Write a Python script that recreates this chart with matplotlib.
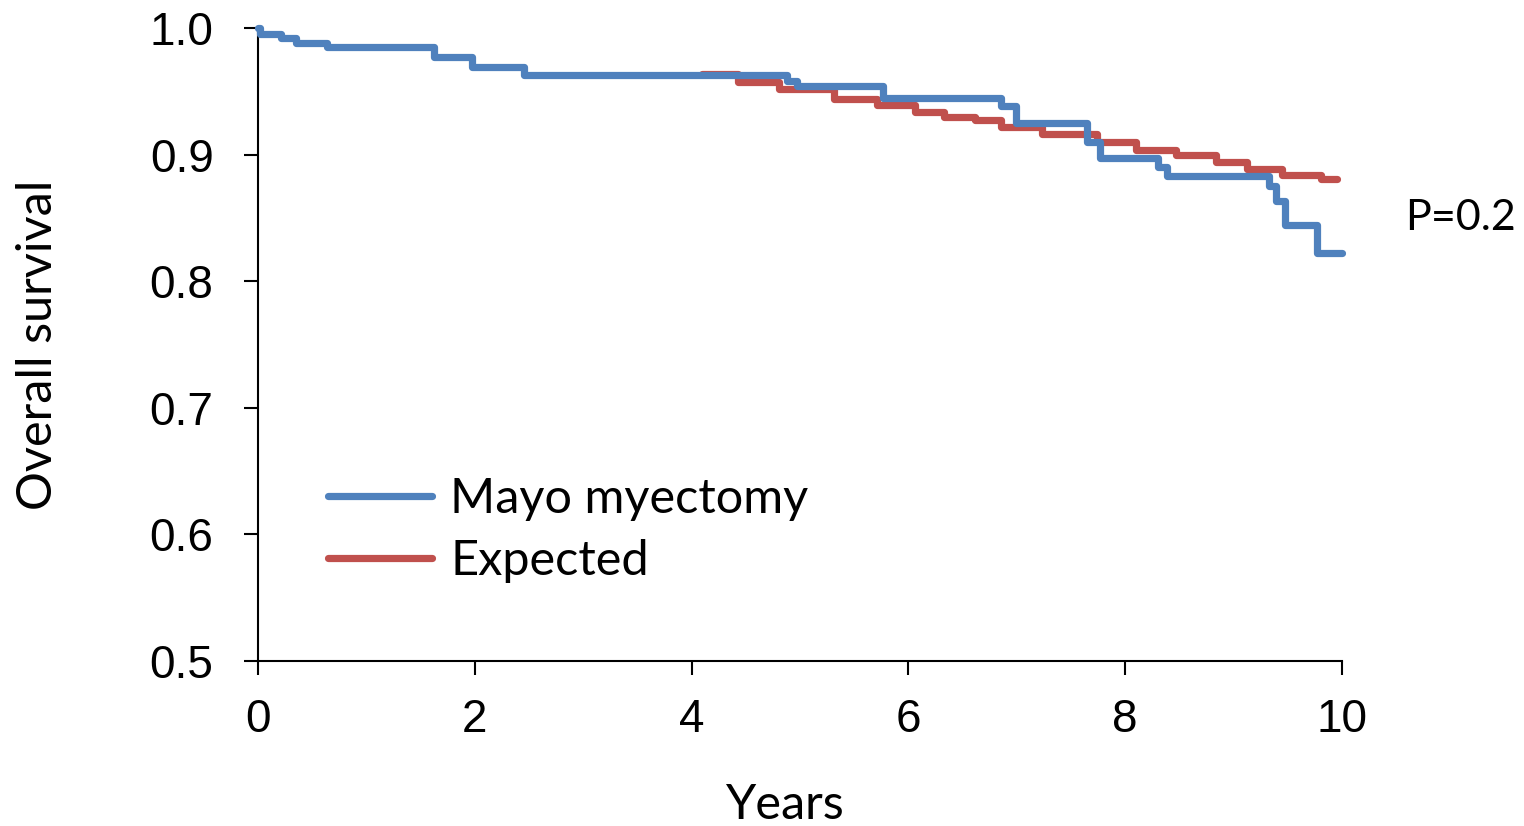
import matplotlib
matplotlib.use('Agg')
import matplotlib.pyplot as plt

# Kaplan-Meier style step data
mayo_years = [0, 0.02, 0.21, 0.35, 0.64, 1.62, 1.97, 2.45, 4.88, 4.97, 5.77, 6.85,
              6.99, 7.65, 7.77, 8.30, 8.39, 9.33, 9.39, 9.47, 9.77, 10.0]
mayo_surv = [1.0, 0.995, 0.992, 0.988, 0.985, 0.977, 0.969, 0.963, 0.958, 0.954, 0.945,
             0.938, 0.925, 0.910, 0.897, 0.890, 0.883, 0.875, 0.863, 0.844, 0.822, 0.822]

exp_years = [4.10, 4.43, 4.81, 5.31, 5.71, 6.06, 6.33, 6.61, 6.85, 7.23, 7.74, 8.10,
             8.47, 8.84, 9.12, 9.45, 9.81, 9.95]
exp_surv = [0.964, 0.957, 0.952, 0.944, 0.939, 0.934, 0.930, 0.927, 0.922, 0.916, 0.910,
            0.904, 0.900, 0.894, 0.889, 0.884, 0.881, 0.881]

x_ticks = [0, 2, 4, 6, 8, 10]
y_ticks = [0.5, 0.6, 0.7, 0.8, 0.9, 1.0]

BLUE = '#4F81BD'
RED = '#C0504D'
TEXT_FONT = 'Lato'
TICK_FONT = 'Liberation Sans'

fig = plt.figure(figsize=(15.24, 8.26), dpi=100)
ax = fig.add_axes([258 / 1524, 1 - 661 / 826, (1342 - 258) / 1524, (661 - 28) / 826])

ax.plot(exp_years, exp_surv, drawstyle='steps-post', color=RED, lw=5.2,
        solid_capstyle='round', label='Expected', clip_on=False, zorder=2)
ax.plot(mayo_years, mayo_surv, drawstyle='steps-post', color=BLUE, lw=5.2,
        solid_capstyle='round', label='Mayo myectomy', clip_on=False, zorder=3)

ax.set_xlim(0, 10)
ax.set_ylim(0.5, 1.0)
ax.set_xticks(x_ticks)
ax.set_yticks(y_ticks)
ax.set_xticklabels([str(t) for t in x_ticks], fontsize=33, family=TICK_FONT)
ax.set_yticklabels(['%.1f' % t for t in y_ticks], fontsize=33, family=TICK_FONT)
ax.tick_params(direction='out', length=10, width=1.5)
ax.tick_params(axis='y', pad=22)
ax.tick_params(axis='x', pad=17)

for side in ['top', 'right']:
    ax.spines[side].set_visible(False)
for side in ['left', 'bottom']:
    ax.spines[side].set_linewidth(1.5)

ax.set_ylabel('Overall survival', fontsize=35, family=TEXT_FONT)
ax.yaxis.set_label_coords(-0.183, 0.5)
ax.set_xlabel('Years', fontsize=35, family=TEXT_FONT)
ax.xaxis.set_label_coords(0.486, -0.192)

# legend: blue first
h, l = ax.get_legend_handles_labels()
ax.legend(h[::-1], l[::-1], loc='center left', bbox_to_anchor=(0.0646, 0.207),
          frameon=False, prop={'family': TEXT_FONT, 'size': 35},
          borderpad=0, borderaxespad=0,
          handlelength=2.14, handletextpad=0.37, labelspacing=0.38)

ax.text(1.058, 0.70, 'P=0.2', transform=ax.transAxes, fontsize=31,
        family=TEXT_FONT, va='center', ha='left')

fig.savefig('out.png', dpi=100)
